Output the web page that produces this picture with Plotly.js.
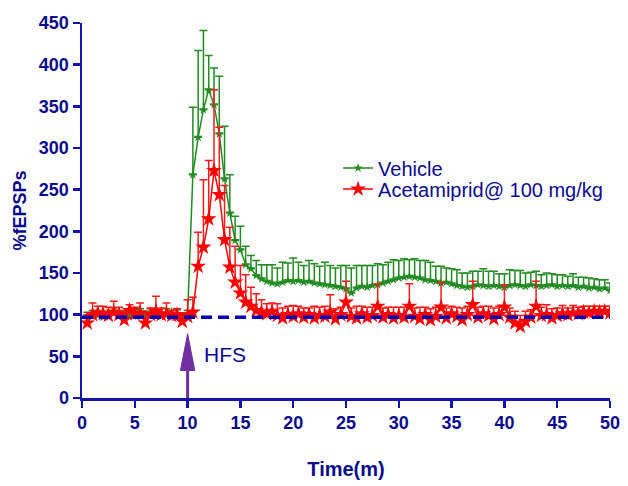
<!DOCTYPE html>
<html>
<head>
<meta charset="utf-8">
<script src="https://cdn.plot.ly/plotly-3.0.1.min.js"></script>
<style>html,body{margin:0;padding:0;background:#fff;}#chart{width:628px;height:486px;}</style>
</head>
<body>
<div id="chart"></div>
<script>
// Time points (minutes)
const timeMin = [0.5,1,1.5,2,2.5,3,3.5,4,4.5,5,5.5,6,6.5,7,7.5,8,8.5,9,9.5,10,
  10.5,11,11.5,12,12.5,13,13.5,14,14.5,15,15.5,16,16.5,17,17.5,18,18.5,19,19.5,20,
  20.5,21,21.5,22,22.5,23,23.5,24,24.5,25,25.5,26,26.5,27,27.5,28,28.5,29,29.5,30,
  30.5,31,31.5,32,32.5,33,33.5,34,34.5,35,35.5,36,36.5,37,37.5,38,38.5,39,39.5,40,
  40.5,41,41.5,42,42.5,43,43.5,44,44.5,45,45.5,46,46.5,47,47.5,48,48.5,49,49.5,50];

// Vehicle mean %fEPSP
const vehicleMean = [98,101,99,97,100,102,99,101,98,100,103,99,101,100,98,102,99,101,98,100,
  268,313,346,370,352,317,263,222,189,178,160,155,147,143,140,138,137,139,141,140,
  141,139,140,138,137,136,135,134,133,131,126,132,134,133,135,136,138,140,142,144,
  145,146,145,144,142,141,140,138,139,137,135,134,133,134,136,135,134,135,134,133,
  135,136,135,134,136,135,134,135,136,134,135,134,135,133,134,132,133,131,132,129];
// Vehicle SEM (upper bars)
const vehicleSem = [5,4,6,5,4,6,5,4,5,6,4,5,6,5,4,5,6,5,4,5,
  81,104,95,41,44,69,63,46,29,28,22,16,18,17,20,22,19,24,21,28,
  22,20,25,23,21,27,24,22,26,28,30,27,25,26,24,25,22,23,24,21,
  22,20,22,21,23,22,18,20,17,18,19,16,17,18,16,20,18,17,15,16,
  19,17,18,16,15,17,14,15,13,14,13,12,14,12,11,12,10,11,10,9];

// Acetamiprid mean %fEPSP
const acetMean = [90,100,102,101,99,103,100,94,105,101,102,90,100,104,100,101,99,100,92,98,
  103,158,181,215,273,244,190,157,139,126,115,110,105,103,101,104,99,96,100,98,
  101,97,100,96,99,98,103,95,100,115,98,96,101,97,99,110,97,100,96,99,
  97,110,98,95,100,94,98,109,96,101,98,94,100,112,97,101,99,95,100,109,
  97,90,86,92,97,110,99,100,96,99,101,100,102,101,103,102,104,103,104,102];
// Acetamiprid SEM (upper bars)
const acetSem = [10,14,8,9,10,13,9,10,7,8,12,12,8,18,8,13,6,7,10,20,
  18,41,81,70,97,81,65,48,43,33,33,23,20,15,12,10,14,12,10,13,
  9,11,8,14,10,12,21,12,9,25,10,14,9,12,10,27,11,9,13,10,
  12,27,10,14,9,13,11,30,12,9,11,14,10,28,12,9,11,13,10,27,
  11,14,13,12,9,30,10,12,11,9,10,8,9,8,7,8,6,7,6,8];

const seriesNames = ['Vehicle', 'Acetamiprid@ 100 mg/kg'];
const xTicks = [0,5,10,15,20,25,30,35,40,45,50];
const yTicks = [0,50,100,150,200,250,300,350,400,450];
const baselineLevel = 97;
const hfsTime = 10;

const txt = '#0b0b8c';
const axc = '#1414a8';
const fam = 'Liberation Sans, Arial, sans-serif';
const zeros = timeMin.map(() => 0);

const traces = [
  {
    x: timeMin, y: vehicleMean, name: seriesNames[0], type: 'scatter', mode: 'lines+markers',
    legend: 'legend',
    line: {color: '#228b22', width: 1.5},
    marker: {symbol: 'star', size: 7, color: '#228b22'},
    error_y: {type: 'data', symmetric: false, array: vehicleSem, arrayminus: zeros,
              color: '#228b22', thickness: 1.5, width: 4}
  },
  {
    x: timeMin, y: acetMean, name: seriesNames[1], type: 'scatter', mode: 'lines+markers',
    legend: 'legend2',
    line: {color: '#ff0000', width: 1.5},
    marker: {symbol: 'star', size: 12, color: '#ff0000'},
    error_y: {type: 'data', symmetric: false, array: acetSem, arrayminus: zeros,
              color: '#ff1a1a', thickness: 1.5, width: 4}
  }
];

const legendBase = {xanchor: 'left', yanchor: 'middle',
  font: {size: 20, color: txt, family: fam}, bgcolor: 'rgba(0,0,0,0)', itemwidth: 30};

const layout = {
  width: 628, height: 486,
  margin: {l: 82, r: 18, t: 23, b: 88},
  paper_bgcolor: '#ffffff', plot_bgcolor: '#ffffff',
  font: {family: fam, color: txt},
  showlegend: true,
  legend: Object.assign({}, legendBase, {x: 0.485, y: (398 - 168) / 375}),
  legend2: Object.assign({}, legendBase, {x: 0.485, y: (398 - 189) / 375}),
  xaxis: {
    range: [0, 50], tickvals: xTicks, ticktext: xTicks.map(v => '<b>' + v + '</b>'),
    showline: true, linecolor: axc, linewidth: 2.5, showgrid: false, zeroline: false,
    ticks: 'outside', ticklen: 7, tickwidth: 2.5, tickcolor: axc,
    tickfont: {size: 18, color: txt, family: fam},
    title: {text: '<b>Time(m)</b>', font: {size: 20, color: txt, family: fam}, standoff: 30}
  },
  yaxis: {
    range: [0, 450], tickvals: yTicks, ticktext: yTicks.map(v => '<b>' + v + '</b>'),
    showline: true, linecolor: axc, linewidth: 2.5, showgrid: false, zeroline: false,
    ticks: 'outside', ticklen: 7, tickwidth: 2.5, tickcolor: axc,
    tickfont: {size: 18, color: txt, family: fam},
    title: {text: '<b>%fEPSPs</b>', font: {size: 18, color: txt, family: fam}, standoff: 8}
  },
  shapes: [
    {type: 'line', xref: 'x', yref: 'y', x0: 0, x1: 50, y0: baselineLevel, y1: baselineLevel,
     line: {color: '#0000b4', width: 3.5, dash: '11px,6px'}, layer: 'above'},
    {type: 'line', xref: 'x', yref: 'y', x0: hfsTime, x1: hfsTime, y0: 0, y1: 36,
     line: {color: '#7030a0', width: 3}, layer: 'above'},
    {type: 'path', xref: 'x', yref: 'y',
     path: 'M ' + (hfsTime - 0.68) + ',33 L ' + (hfsTime + 0.68) + ',33 L ' + hfsTime + ',77 Z',
     fillcolor: '#7030a0', line: {color: '#7030a0', width: 1}, layer: 'above'}
  ],
  annotations: [
    {x: hfsTime + 1.4, y: 52, xref: 'x', yref: 'y', text: 'HFS', showarrow: false,
     xanchor: 'left', yanchor: 'middle',
     font: {size: 21, color: txt, family: fam}}
  ]
};

Plotly.newPlot('chart', traces, layout, {staticPlot: true, displayModeBar: false});
</script>
</body>
</html>
